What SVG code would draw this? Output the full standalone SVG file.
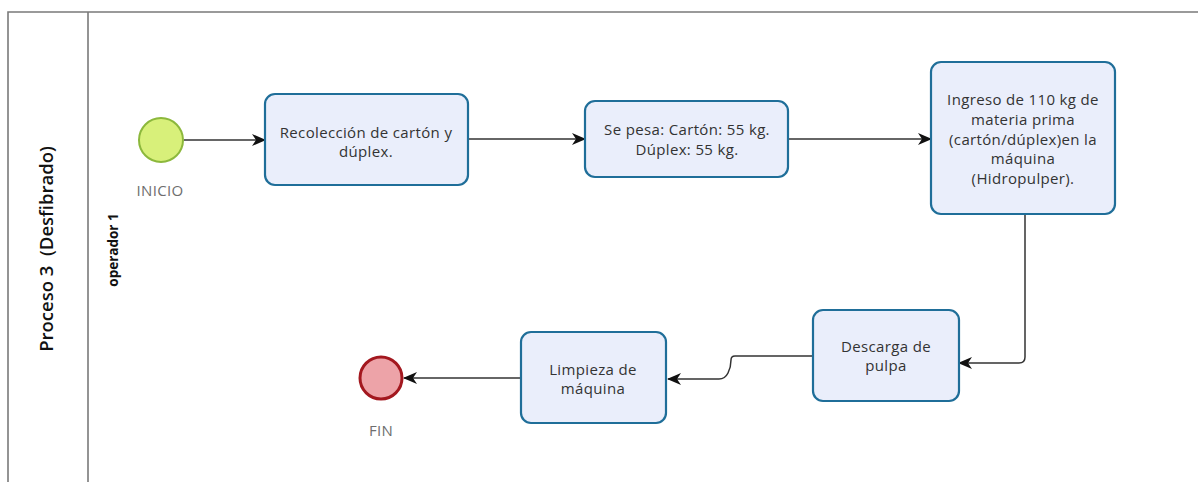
<svg xmlns="http://www.w3.org/2000/svg" width="1198" height="482" viewBox="0 0 1198 482">
  <style>
    .pool { fill: none; stroke: #7a7a7a; stroke-width: 1.6; }
    .task { fill: #eaeefb; stroke: #1f6e99; stroke-width: 2.2; }
    .label { font-family: "Open Sans", "Noto Sans", sans-serif; font-size: 15px; letter-spacing: 0.35px; fill: #333; text-anchor: middle; }
    .evlabel { font-family: "Open Sans", "Noto Sans", sans-serif; font-size: 15px; letter-spacing: 0.3px; fill: #6e6e6e; text-anchor: middle; }
    .flow { fill: none; stroke: #333; stroke-width: 1.5; }
  </style>
  <defs>
    <marker id="arrow" viewBox="0 0 14 12" refX="13" refY="6" markerWidth="14" markerHeight="12" markerUnits="userSpaceOnUse" orient="auto">
      <path d="M0,0 L14,6 L0,12 L4,6 Z" fill="#111"/>
    </marker>
  </defs>

  <rect width="1198" height="482" fill="#ffffff"/>

  <!-- pool and lane -->
  <g id="pool">
    <path class="pool" d="M1198,12 H8 V482 M88,12 V482"/>
    <text transform="translate(53,249) rotate(-90)" text-anchor="middle" font-family="Open Sans, Noto Sans, sans-serif" font-size="18.5" font-weight="600" fill="#111" xml:space="preserve">Proceso 3  (Desfibrado)</text>
    <text transform="translate(118,250) rotate(-90)" text-anchor="middle" font-family="Open Sans, Noto Sans, sans-serif" font-size="13.5" font-weight="700" fill="#111">operador 1</text>
  </g>

  <!-- connectors -->
  <g id="connectors">
    <path class="flow" d="M184,140 H265" marker-end="url(#arrow)"/>
    <path class="flow" d="M468,139 H585" marker-end="url(#arrow)"/>
    <path class="flow" d="M788,139 H931" marker-end="url(#arrow)"/>
    <path class="flow" d="M1025,214 V357 Q1025,363 1019,363 H959" marker-end="url(#arrow)"/>
    <path class="flow" d="M813,356 H735 Q731,356 731,360 Q731,367 728,373 Q725,379 719,379 H668" marker-end="url(#arrow)"/>
    <path class="flow" d="M521,378 H404" marker-end="url(#arrow)"/>
  </g>

  <g id="inicio">
    <circle cx="161" cy="140" r="22" fill="#d8f07a" stroke="#8cb83c" stroke-width="2"/>
    <text class="evlabel" x="160" y="196">INICIO</text>
  </g>

  <g id="recoleccion">
    <rect class="task" x="265" y="94" width="203" height="91" rx="10"/>
    <text class="label" x="366" y="138">Recolección de cartón y</text>
    <text class="label" x="366" y="157">dúplex.</text>
  </g>

  <g id="pesado">
    <rect class="task" x="585" y="101" width="203" height="76" rx="10"/>
    <text class="label" x="687" y="135">Se pesa: Cartón: 55 kg.</text>
    <text class="label" x="687" y="155">Dúplex: 55 kg.</text>
  </g>

  <g id="ingreso">
    <rect class="task" x="931" y="62" width="184" height="152" rx="10"/>
    <text class="label" x="1023" y="105">Ingreso de 110 kg de</text>
    <text class="label" x="1023" y="125">materia prima</text>
    <text class="label" x="1023" y="145">(cartón/dúplex)en la</text>
    <text class="label" x="1023" y="164">máquina</text>
    <text class="label" x="1023" y="184">(Hidropulper).</text>
  </g>

  <g id="descarga">
    <rect class="task" x="813" y="310" width="146" height="91" rx="10"/>
    <text class="label" x="886" y="352">Descarga de</text>
    <text class="label" x="886" y="371">pulpa</text>
  </g>

  <g id="limpieza">
    <rect class="task" x="521" y="332" width="145" height="91" rx="10"/>
    <text class="label" x="593" y="375">Limpieza de</text>
    <text class="label" x="593" y="394">máquina</text>
  </g>

  <g id="fin">
    <circle cx="381" cy="378" r="21" fill="#eda3a8" stroke="#a3181f" stroke-width="3"/>
    <text class="evlabel" x="381" y="436">FIN</text>
  </g>
</svg>
